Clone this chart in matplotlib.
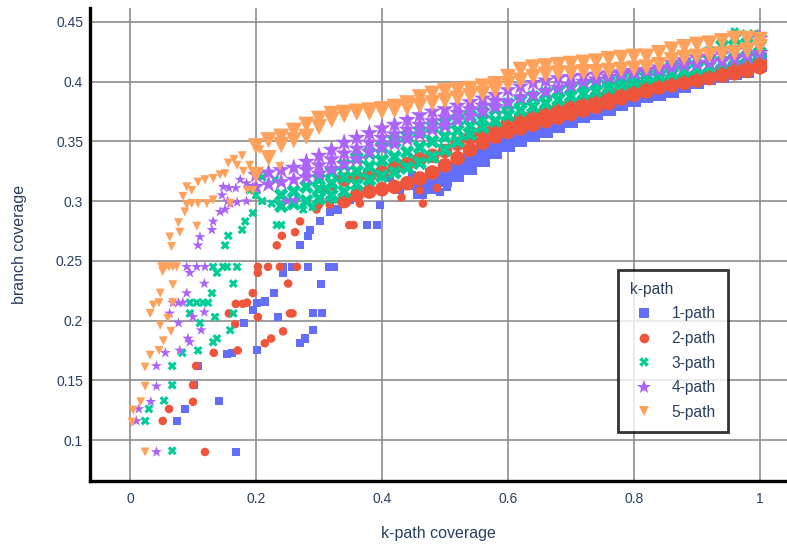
import matplotlib
matplotlib.use("Agg")
import matplotlib.pyplot as plt
from matplotlib.lines import Line2D
import numpy as np

plt.rcParams["font.family"] = ["Liberation Sans Narrow", "Liberation Sans", "DejaVu Sans"]

NA = np.nan
TEXT = "#2a3f5f"

SERIES = ["1-path", "2-path", "3-path", "4-path", "5-path"]
COLORS = ["#636efa", "#ef553b", "#00cc96", "#ab63fa", "#ffa15a"]
MARKERS = ["s", "o", "X", "*", "v"]

X_TICKS = [0, 0.2, 0.4, 0.6, 0.8, 1.0]
X_TICK_LABELS = ["0", "0.2", "0.4", "0.6", "0.8", "1"]
Y_TICKS = [0.1, 0.15, 0.2, 0.25, 0.3, 0.35, 0.4, 0.45]
Y_TICK_LABELS = ["0.1", "0.15", "0.2", "0.25", "0.3", "0.35", "0.4", "0.45"]

X_BAND = [0.20, 0.22, 0.24, 0.26, 0.28, 0.30, 0.32, 0.34, 0.36, 0.38,
          0.40, 0.42, 0.44, 0.46, 0.48, 0.50, 0.52, 0.54, 0.56, 0.58,
          0.60, 0.62, 0.64, 0.66, 0.68, 0.70, 0.72, 0.74, 0.76, 0.78,
          0.80, 0.82, 0.84, 0.86, 0.88, 0.90, 0.92, 0.94, 0.96, 0.98, 1.00]

# upper / lower rows of each dense band (branch coverage)
BLUE_HI = [NA] * 13 + [.318, .322, .327, .332, .338, .344, .349, .354, .358, .361, .365, .369, .372, .376,
                       .379, .382, .386, .389, .392, .394, .396, .399, .403, .405, .407, .410, .412, .418]
BLUE_LO = [NA] * 13 + [.308, .312, .318, .322, .328, .334, .341, .347, .351, .355, .359, .363, .367, .371,
                       .374, .377, .381, .385, .388, .390, .392, .396, .400, .403, .405, .407, .409, .414]
RED_HI = [NA] * 7 + [.318, .320, .322, .324, .328, .331, .335, .338, .342, .348, .353, .358, .362, .366, .369,
                     .372, .375, .378, .381, .384, .387, .390, .393, .395, .397, .399, .401, .403, .405, .406,
                     .408, .410, .412, .416]
RED_LO = [NA] * 7 + [.300, .305, .308, .310, .312, .315, .319, .324, .330, .336, .343, .349, .354, .358, .361,
                     .364, .367, .370, .373, .376, .379, .382, .386, .389, .392, .395, .397, .399, .401, .403,
                     .405, .407, .409, .412]
GREEN_HI = [NA] * 2 + [.305, .308, .312, .318, .324, .330, .336, .340, .345, .350, .354, .358, .362, .365,
                       .368, .371, .374, .377, .381, .384, .387, .390, .392, .394, .396, .398, .400, .402,
                       .404, .406, .409, .412, .415, .419, .424, .430, .436, .438, .436]
GREEN_MID = [NA] * 5 + [.310, .315, .320, .325, .329, .334, .337, .341, .345, .350, .354, .359, .363, .368] + [NA] * 22
GREEN_LO = [NA] * 2 + [.296, .298, .300, .302, .305, .308, .314, .318, .321, .324, .328, .332, .337, .343,
                       .350, .356, .362, .367, .372, .376, .379, .382, .385, .388, .390, .392, .395, .398,
                       .400, .403, .405, .407, .409, .411, .413, .416, .419, .421, .424]
PURPLE_HI = [.322, .324, .326, .328, .333, .338, .343, .349, .353, .357, .361, .364, .368, .372, .375, .377,
             .380, .383, .386, .389, .393, .396, .399, .401, .403, .404, .405, .406, .407, .408, .409, .410,
             .412, .416, .418, .420, .421, .423, .426, .430, .436]
PURPLE_MID = [NA] * 4 + [.326, .330, .335, .340, .344, .349, .353, .356, .360, .364, .367, .370, .374, .377,
                         .380, .384] + [NA] * 21
PURPLE_LO = [.312, .314, .316, .318, .320, .323, .327, .331, .335, .341, .345, .348, .352, .356, .360, .363,
             .368, .371, .375, .379, .383, .387, .389, .392, .395, .397, .400, .402, .404, .406, .407, .409,
             .410, .412, .414, .415, .416, .417, .419, .421, .424]
ORANGE_HI = [.346, .351, .354, .359, .364, .369, .373, .374, .375, .376, .377, .379, .382, .387, .390, .392,
             .393, .394, .396, .398, .404, .410, .412, .413, .414, .415, .416, .417, .419, .420, .421, .421,
             .424, .427, .429, .431, .432, .434, .436, .436, .435]
ORANGE_LO = [.322, .336, .347, .351, .354, .362, .368, .372, .374, .374, .375, .376, .378, .380, .382, .384,
             .386, .388, .390, .393, .398, .401, .404, .406, .407, .407, .408, .408, .409, .410, .411, .412,
             .414, .418, .420, .421, .422, .423, .424, .426, .429]

# scattered individual runs (k-path coverage, branch coverage)
BLUE_PTS = [(.168, .090), (.074, .116), (.087, .126), (.141, .133), (.102, .146), (.108, .162), (.154, .172),
            (.162, .173), (.202, .175), (.181, .198), (.195, .209), (.201, .215), (.214, .216), (.229, .223),
            (.235, .203), (.270, .181), (.278, .185), (.290, .192), (.290, .206), (.305, .206), (.303, .231),
            (.243, .240), (.243, .245), (.257, .245), (.283, .245), (.316, .245), (.324, .245), (.270, .263),
            (.283, .271), (.286, .276), (.302, .283), (.317, .291), (.330, .293), (.349, .301), (.376, .280),
            (.392, .280), (.317, .301), (.328, .293), (.397, .297), (.413, .319), (.429, .309), (.444, .313),
            (.447, .322), (.465, .315), (.492, .308), (.503, .312), (.492, .323), (.360, .305), (.380, .312),
            (1.0, .422), (1.0, .428), (1.0, .434), (1.0, .437)]
RED_PTS = [(.119, .090), (.052, .116), (.062, .126), (.100, .132), (.100, .146), (.105, .162), (.133, .173),
           (.171, .175), (.167, .197), (.157, .206), (.203, .203), (.168, .214), (.179, .214), (.186, .215),
           (.195, .223), (.203, .240), (.203, .245), (.219, .245), (.238, .245), (.265, .245), (.251, .231),
           (.243, .191), (.224, .185), (.214, .181), (.254, .206), (.258, .206), (.233, .263), (.241, .271),
           (.262, .274), (.270, .283), (.296, .293), (.302, .301), (.306, .309), (.317, .297), (.344, .318),
           (.365, .298), (.348, .280), (.355, .280), (.322, .312), (.338, .318), (.431, .303), (.465, .298),
           (.487, .311), (.460, .309), (.452, .333), (.300, .297), (1.0, .420), (1.0, .428), (1.0, .434)]
GREEN_PTS = [(.067, .091), (.024, .116), (.030, .126), (.054, .133), (.067, .146), (.067, .162), (.083, .173),
             (.108, .175), (.132, .182), (.138, .185), (.159, .192), (.111, .198), (.135, .203), (.095, .206),
             (.164, .206), (.095, .215), (.106, .215), (.116, .215), (.124, .215), (.130, .223), (.164, .231),
             (.138, .240), (.132, .245), (.148, .245), (.154, .245), (.170, .245), (.151, .263), (.156, .271),
             (.178, .276), (.183, .283), (.233, .280), (.240, .280), (.195, .290), (.210, .300), (.225, .298),
             (.190, .309), (.200, .305), (.210, .320), (.230, .318), (.275, .293), (.290, .295), (.313, .309),
             (.323, .301), (.960, .442), (.990, .440)]
PURPLE_PTS = [(.042, .090), (.010, .116), (.014, .126), (.033, .132), (.042, .145), (.042, .162), (.056, .173),
              (.079, .175), (.095, .182), (.092, .185), (.113, .192), (.077, .198), (.100, .203), (.118, .207),
              (.063, .206), (.068, .215), (.077, .215), (.084, .215), (.090, .223), (.118, .231), (.095, .240),
              (.090, .245), (.106, .245), (.119, .245), (.108, .263), (.111, .270), (.130, .276), (.132, .283),
              (.143, .291), (.151, .293), (.159, .298), (.170, .299), (.146, .305), (.157, .311), (.168, .311),
              (.148, .312), (.175, .318), (.185, .315), (.195, .312), (.185, .300), (.249, .300), (.262, .301),
              (.155, .300), (1.0, .437), (.997, .440)]
ORANGE_PTS = [(.024, .090), (.003, .115), (.005, .125), (.017, .132), (.024, .145), (.024, .161), (.032, .171),
              (.046, .175), (.053, .183), (.065, .191), (.048, .196), (.060, .202), (.032, .206), (.037, .213),
              (.046, .215), (.068, .215), (.048, .223), (.068, .230), (.052, .241), (.050, .245), (.056, .245),
              (.062, .245), (.068, .245), (.074, .245), (.066, .262), (.063, .270), (.079, .274), (.077, .282),
              (.106, .279), (.087, .291), (.090, .297), (.098, .298), (.108, .298), (.122, .298), (.132, .301),
              (.084, .304), (.090, .312), (.098, .309), (.108, .316), (.119, .318), (.132, .319), (.143, .322),
              (.151, .323), (.156, .332), (.170, .330), (.180, .325), (.186, .309), (.195, .309), (.159, .298),
              (.165, .335), (.178, .338), (.190, .330), (.206, .343), (.220, .338), (.238, .329)]

POINTS = [BLUE_PTS, RED_PTS, GREEN_PTS, PURPLE_PTS, ORANGE_PTS]
BANDS = [
    [BLUE_HI, BLUE_LO],
    [RED_HI, RED_LO],
    [GREEN_HI, GREEN_MID, GREEN_LO],
    [PURPLE_HI, PURPLE_MID, PURPLE_LO],
    [ORANGE_HI, ORANGE_LO],
]
# (scattered size, dense band size)
SIZES = {"s": (34, 100), "o": (38, 110), "X": (42, 110), "*": (70, 185), "v": (42, 135)}

W, H = 787, 545
fig = plt.figure(figsize=(W / 100, H / 100), dpi=100)
ax = fig.add_axes([90 / W, 1 - 481 / H, 697 / W, 473 / H])

for name, color, marker, pts, rows in zip(SERIES, COLORS, MARKERS, POINTS, BANDS):
    small, big = SIZES[marker]
    xs = [p[0] for p in pts]
    ys = [p[1] for p in pts]
    sizes = [small] * len(pts)
    for row in rows:
        assert len(row) == len(X_BAND)
        for xv, yv in zip(X_BAND, row):
            if not np.isnan(yv):
                xs.append(xv)
                ys.append(yv)
                sizes.append(big)
    ax.scatter(xs, ys, s=sizes, marker=marker, color=color, edgecolors="none", linewidths=0, label=name)

ax.set_xlim(-0.0635, 1.043)
ax.set_ylim(0.0657, 0.4617)
ax.set_xticks(X_TICKS)
ax.set_xticklabels(X_TICK_LABELS)
ax.set_yticks(Y_TICKS)
ax.set_yticklabels(Y_TICK_LABELS)
ax.tick_params(length=0, labelsize=10, labelcolor=TEXT)
ax.tick_params(axis="x", pad=8)
ax.tick_params(axis="y", pad=5)
ax.grid(True, color="#8c8c8c", linewidth=1.2)
ax.set_axisbelow(True)
for side in ["top", "right"]:
    ax.spines[side].set_visible(False)
for side in ["left", "bottom"]:
    ax.spines[side].set_color("black")
    ax.spines[side].set_linewidth(2.4)

ax.set_xlabel("k-path coverage", fontsize=11.5, color=TEXT, labelpad=14)
ax.set_ylabel("branch coverage", fontsize=11.5, color=TEXT, labelpad=21)

handles = [
    Line2D([0], [0], linestyle="none", marker=m, color=c, markeredgewidth=0,
           markersize=(10 if m == "*" else 7), label=n)
    for n, c, m in zip(SERIES, COLORS, MARKERS)
]
leg = ax.legend(handles=handles, title="k-path", loc="upper left", bbox_to_anchor=(0.7575, 0.446),
                alignment="left", fontsize=11.2, title_fontsize=11.2, frameon=True, fancybox=False,
                borderpad=0.75, labelspacing=0.62, handletextpad=0.8, handlelength=1.9, borderaxespad=0)
leg.get_frame().set_edgecolor("black")
leg.get_frame().set_linewidth(2.0)
for t in leg.get_texts():
    t.set_color(TEXT)
leg.get_title().set_color(TEXT)

fig.savefig("out.png", dpi=100)
